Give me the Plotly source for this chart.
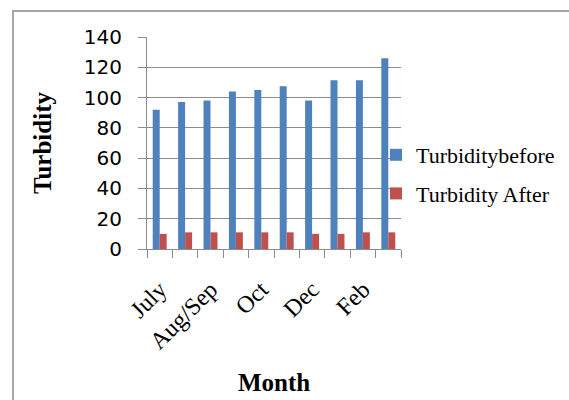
import plotly.graph_objects as go

# Sampling periods (only every second one carries a printed label)
months = ["July", "Aug", "Aug/Sep", "Sep", "Oct", "Nov", "Dec", "Jan", "Feb", "Mar"]
tick_labels = ["July", "", "Aug/Sep", "", "Oct", "", "Dec", "", "Feb", ""]

turbidity_before = [92, 97, 98, 104, 105, 107.5, 98, 111.5, 111.5, 126]
turbidity_after = [10, 11, 11, 11, 11, 11, 10, 10, 11, 11]

W, H = 569, 400
L, R, T, B = 147, 168, 37, 151

BLUE = "#4F81BD"
RED = "#C0504D"
GRID = "#8C8C8C"
SERIF = "Liberation Serif, Times New Roman, serif"

fig = go.Figure()
fig.add_trace(go.Bar(x=months, y=turbidity_before, name="Turbiditybefore",
                     marker=dict(color=BLUE, line=dict(width=0)), legendgroup="a"))
fig.add_trace(go.Bar(x=months, y=turbidity_after, name="Turbidity After",
                     marker=dict(color=RED, line=dict(width=0)), legendgroup="b"))

plot_w = W - L - R
plot_h = H - T - B


def px_x(p):
    return (p - L) / plot_w


def px_y(p):
    return (H - B - p) / plot_h


fig.update_layout(
    width=W, height=H,
    margin=dict(l=L, r=R, t=T, b=B, autoexpand=False),
    paper_bgcolor="white", plot_bgcolor="white",
    barmode="group", bargap=0.45, bargroupgap=0,
    showlegend=True,
    legend=dict(
        xref="container", yref="container",
        x=376 / W, y=1 - 134 / H, xanchor="left", yanchor="top",
        font=dict(family=SERIF, size=22, color="black"),
        bgcolor="rgba(0,0,0,0)", tracegroupgap=7,
        itemwidth=30,
    ),
    xaxis=dict(
        type="category",
        tickmode="array", tickvals=months, ticktext=tick_labels,
        tickson="boundaries", ticks="outside", ticklen=8, tickcolor=GRID,
        tickangle=-45, ticklabelstandoff=16,
        tickfont=dict(family=SERIF, size=24, color="black"),
        showline=True, linecolor=GRID, linewidth=1,
        showgrid=False, zeroline=False,
        title=dict(text="<b>Month</b>", font=dict(family=SERIF, size=25, color="black"),
                   standoff=20),
        automargin=False,
    ),
    yaxis=dict(
        range=[0, 140], dtick=20, tick0=0,
        ticks="outside", ticklen=8, tickcolor=GRID,
        ticklabelstandoff=12,
        tickfont=dict(family="DejaVu Sans, sans-serif", size=20, color="black"),
        showline=True, linecolor=GRID, linewidth=1,
        showgrid=True, gridcolor=GRID, gridwidth=1,
        zeroline=False,
        title=dict(text="<b>Turbidity</b>", font=dict(family=SERIF, size=25, color="black"),
                   standoff=25),
        automargin=False,
    ),
    shapes=[dict(
        type="rect", xref="paper", yref="paper",
        x0=px_x(13), x1=px_x(W + 20), y0=px_y(H + 20), y1=px_y(11),
        line=dict(color="#A6A6A6", width=2), fillcolor="rgba(0,0,0,0)",
        layer="below",
    )],
)

fig.write_html("out.html")
